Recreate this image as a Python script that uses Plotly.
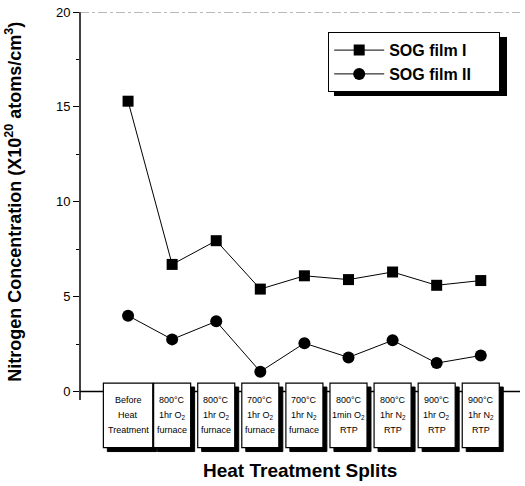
import plotly.graph_objects as go

splits = [
    ["Before", "Heat", "Treatment"],
    ["800°C", "1hr O<sub>2</sub>", "furnace"],
    ["800°C", "1hr O<sub>2</sub>", "furnace"],
    ["700°C", "1hr O<sub>2</sub>", "furnace"],
    ["700°C", "1hr N<sub>2</sub>", "furnace"],
    ["800°C", "1min O<sub>2</sub>", "RTP"],
    ["800°C", "1hr N<sub>2</sub>", "RTP"],
    ["900°C", "1hr O<sub>2</sub>", "RTP"],
    ["900°C", "1hr N<sub>2</sub>", "RTP"],
]
sog_film_1 = [15.3, 6.7, 7.95, 5.4, 6.1, 5.9, 6.3, 5.6, 5.85]
sog_film_2 = [4.0, 2.75, 3.7, 1.05, 2.55, 1.8, 2.7, 1.5, 1.9]
y_ticks = [0, 5, 10, 15, 20]
y_minor = [2.5, 7.5, 12.5, 17.5]

FONT = "Liberation Sans, Arial, sans-serif"
x = list(range(len(splits)))
PAD = "\u00a0" * 5

fig = go.Figure()
fig.add_trace(go.Scatter(
    x=x, y=sog_film_1, mode="lines+markers", name="<b>SOG film I</b>" + PAD,
    line=dict(color="black", width=1),
    marker=dict(symbol="square", size=11, color="black"),
))
fig.add_trace(go.Scatter(
    x=x, y=sog_film_2, mode="lines+markers", name="<b>SOG film II</b>" + PAD,
    line=dict(color="black", width=1),
    marker=dict(symbol="circle", size=12, color="black"),
))

shapes = []
shapes.append(dict(type="line", xref="paper", yref="y", x0=0, x1=1, y0=0, y1=0,
                   line=dict(color="black", width=1.5), layer="above"))
shapes.append(dict(type="line", xref="paper", yref="y", x0=0, x1=0, y0=-0.45, y1=20,
                   line=dict(color="black", width=1.5), layer="above"))
shapes.append(dict(type="line", xref="paper", yref="y", x0=0, x1=1, y0=20, y1=20,
                   line=dict(color="#777", width=1, dash="dashdot"), layer="above"))

box_top, box_bot = 0.45, -2.95
annotations = []
for i, lines in enumerate(splits):
    w = 1.12 if i == 0 else 0.84
    sx, sy = 0.09, 0.21
    shapes.append(dict(type="rect", xref="x", yref="y",
                       x0=i - w / 2 + sx, x1=i + w / 2 + sx, y0=box_bot - sy, y1=box_top - sy,
                       fillcolor="black", line=dict(color="black", width=1), layer="above"))
    shapes.append(dict(type="rect", xref="x", yref="y",
                       x0=i - w / 2, x1=i + w / 2, y0=box_bot, y1=box_top,
                       fillcolor="white", line=dict(color="black", width=1.2), layer="above"))
    for k, t in enumerate(lines):
        annotations.append(dict(x=i, y=(box_top + box_bot) / 2, xref="x", yref="y",
                                text=t, showarrow=False, yshift=(1 - k) * 15,
                                font=dict(family=FONT, size=9, color="black")))

annotations.append(dict(x=0.5, y=0, xref="paper", yref="paper", yshift=0,
                        text="<b>Heat Treatment Splits</b>", showarrow=False,
                        yanchor="top", font=dict(family=FONT, size=19, color="black")))
annotations.append(dict(x=0, y=10, xref="paper", yref="y", xshift=-66, xanchor="center",
                        text="<b>Nitrogen Concentration (X10<sup>20</sup> atoms/cm<sup>3</sup>)</b>",
                        showarrow=False, textangle=-90,
                        font=dict(family=FONT, size=18, color="black")))

# legend shadow
shapes.append(dict(type="rect", xref="paper", yref="paper",
                   x0=(334 - 80) / 440, x1=(507 - 80) / 440,
                   y0=(458 - 96) / 446, y1=(458 - 37) / 446,
                   fillcolor="black", line=dict(width=0), layer="above"))

fig.update_layout(
    width=525, height=486,
    margin=dict(l=80, r=5, t=12, b=28),
    paper_bgcolor="white", plot_bgcolor="white",
    showlegend=True,
    legend=dict(x=(328 - 80) / 440, y=(458 - 32) / 446, xanchor="left", yanchor="top",
                bgcolor="white", bordercolor="black", borderwidth=1.2,
                font=dict(family=FONT, size=16, color="black"),
                itemwidth=50),
    xaxis=dict(range=[-1.09, 8.89], showgrid=False, zeroline=False, showline=False,
               showticklabels=False, ticks=""),
    yaxis=dict(range=[-3.5, 20], showgrid=False, zeroline=False, showline=False,
               tickvals=y_ticks, ticks="outside", ticklen=6, tickwidth=1.2, tickcolor="black",
               minor=dict(tickvals=y_minor, ticks="outside", ticklen=3, tickcolor="black"),
               tickfont=dict(family=FONT, size=13, color="black")),
    shapes=shapes, annotations=annotations,
    font=dict(family=FONT),
)

fig.write_html("out.html")
